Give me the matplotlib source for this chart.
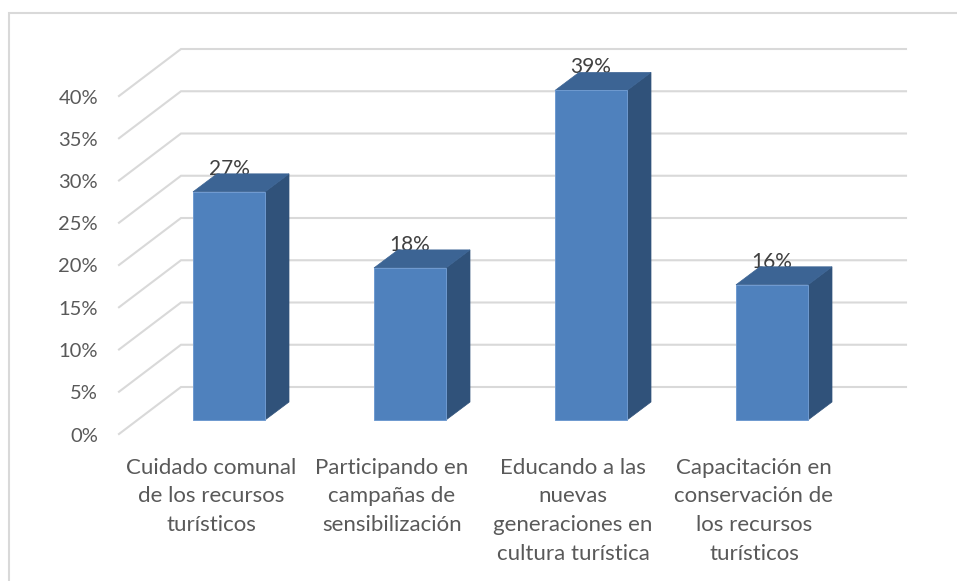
import numpy as np
import matplotlib
matplotlib.use("Agg")
import matplotlib.pyplot as plt
from matplotlib.patches import Polygon

categorias = [
    "Cuidado comunal\nde los recursos\nturísticos",
    "Participando en\ncampañas de\nsensibilización",
    "Educando a las\nnuevas\ngeneraciones en\ncultura turística",
    "Capacitación en\nconservación de\nlos recursos\nturísticos",
]
valores = [27, 18, 39, 16]
ticks = [0, 5, 10, 15, 20, 25, 30, 35, 40]

plt.rcParams["font.family"] = ["Lato", "DejaVu Sans"]

W, H = 957, 581
PX_X = 181.0   # pixels entre categorias
PX_Y = 8.45    # pixels por punto porcentual
X0_PX = 229.0  # centro de la primera barra
Y0_PX = 420.0  # base del frente de las barras

fig = plt.figure(figsize=(W / 100, H / 100), dpi=100)
ax = fig.add_axes([0, 0, 1, 1])
ax.set_xlim((0 - X0_PX) / PX_X, (W - X0_PX) / PX_X)
ax.set_ylim((Y0_PX - H) / PX_Y, Y0_PX / PX_Y)
ax.axis("off")


def dx(px):
    return px / PX_X


def dy(px):
    return px / PX_Y


# Cuadricula: diagonal en la pared lateral y linea horizontal al fondo
gris = "#d9d9d9"
for t in ticks:
    xs = [dx(119 - X0_PX), dx(181 - X0_PX), dx(906 - X0_PX)]
    ys = [t + dy(-14), t + dy(33), t + dy(33)]
    ax.plot(xs, ys, color=gris, lw=1.5, zorder=1, solid_joinstyle="miter")
    ax.text(dx(98 - X0_PX), t + dy(-16), f"{t}%", ha="right", va="center",
            fontsize=14.5, color="#595959", zorder=2)

# Barras en falso 3D
mitad = dx(36)
prof_x = dx(24)
prof_y = dy(18)
for i, v in enumerate(valores):
    izq, der = i - mitad, i + mitad
    ax.text(i, v + prof_y + dy(5), f"{v}%", ha="center", va="center",
            fontsize=15, color="#404040", zorder=2)
    ax.add_patch(Polygon([(der, 0), (der + prof_x, prof_y), (der + prof_x, v + prof_y), (der, v)],
                         closed=True, facecolor="#30527a", edgecolor="#30527a", lw=0.5, zorder=3))
    ax.add_patch(Polygon([(izq, v), (der, v), (der + prof_x, v + prof_y), (izq + prof_x, v + prof_y)],
                         closed=True, facecolor="#3c6494", edgecolor="#3c6494", lw=0.5, zorder=3))
    ax.add_patch(Polygon([(izq, 0), (der, 0), (der, v), (izq, v)],
                         closed=True, facecolor="#4f81bd", edgecolor="#6f9ad0", lw=0.7, zorder=4))
    ax.text(i + dx(-18), dy(420 - 457.5), categorias[i], ha="center", va="top",
            fontsize=16, color="#595959", linespacing=1.56, zorder=2)

# Marco del grafico (solo arriba e izquierda)
ax.plot([dx(9 - X0_PX), dx(9 - X0_PX), dx(W - X0_PX)],
        [(Y0_PX - H) / PX_Y, dy(420 - 13), dy(420 - 13)],
        color=gris, lw=1.5, zorder=1, solid_joinstyle="miter")

fig.savefig("out.png", dpi=100, facecolor="white")
